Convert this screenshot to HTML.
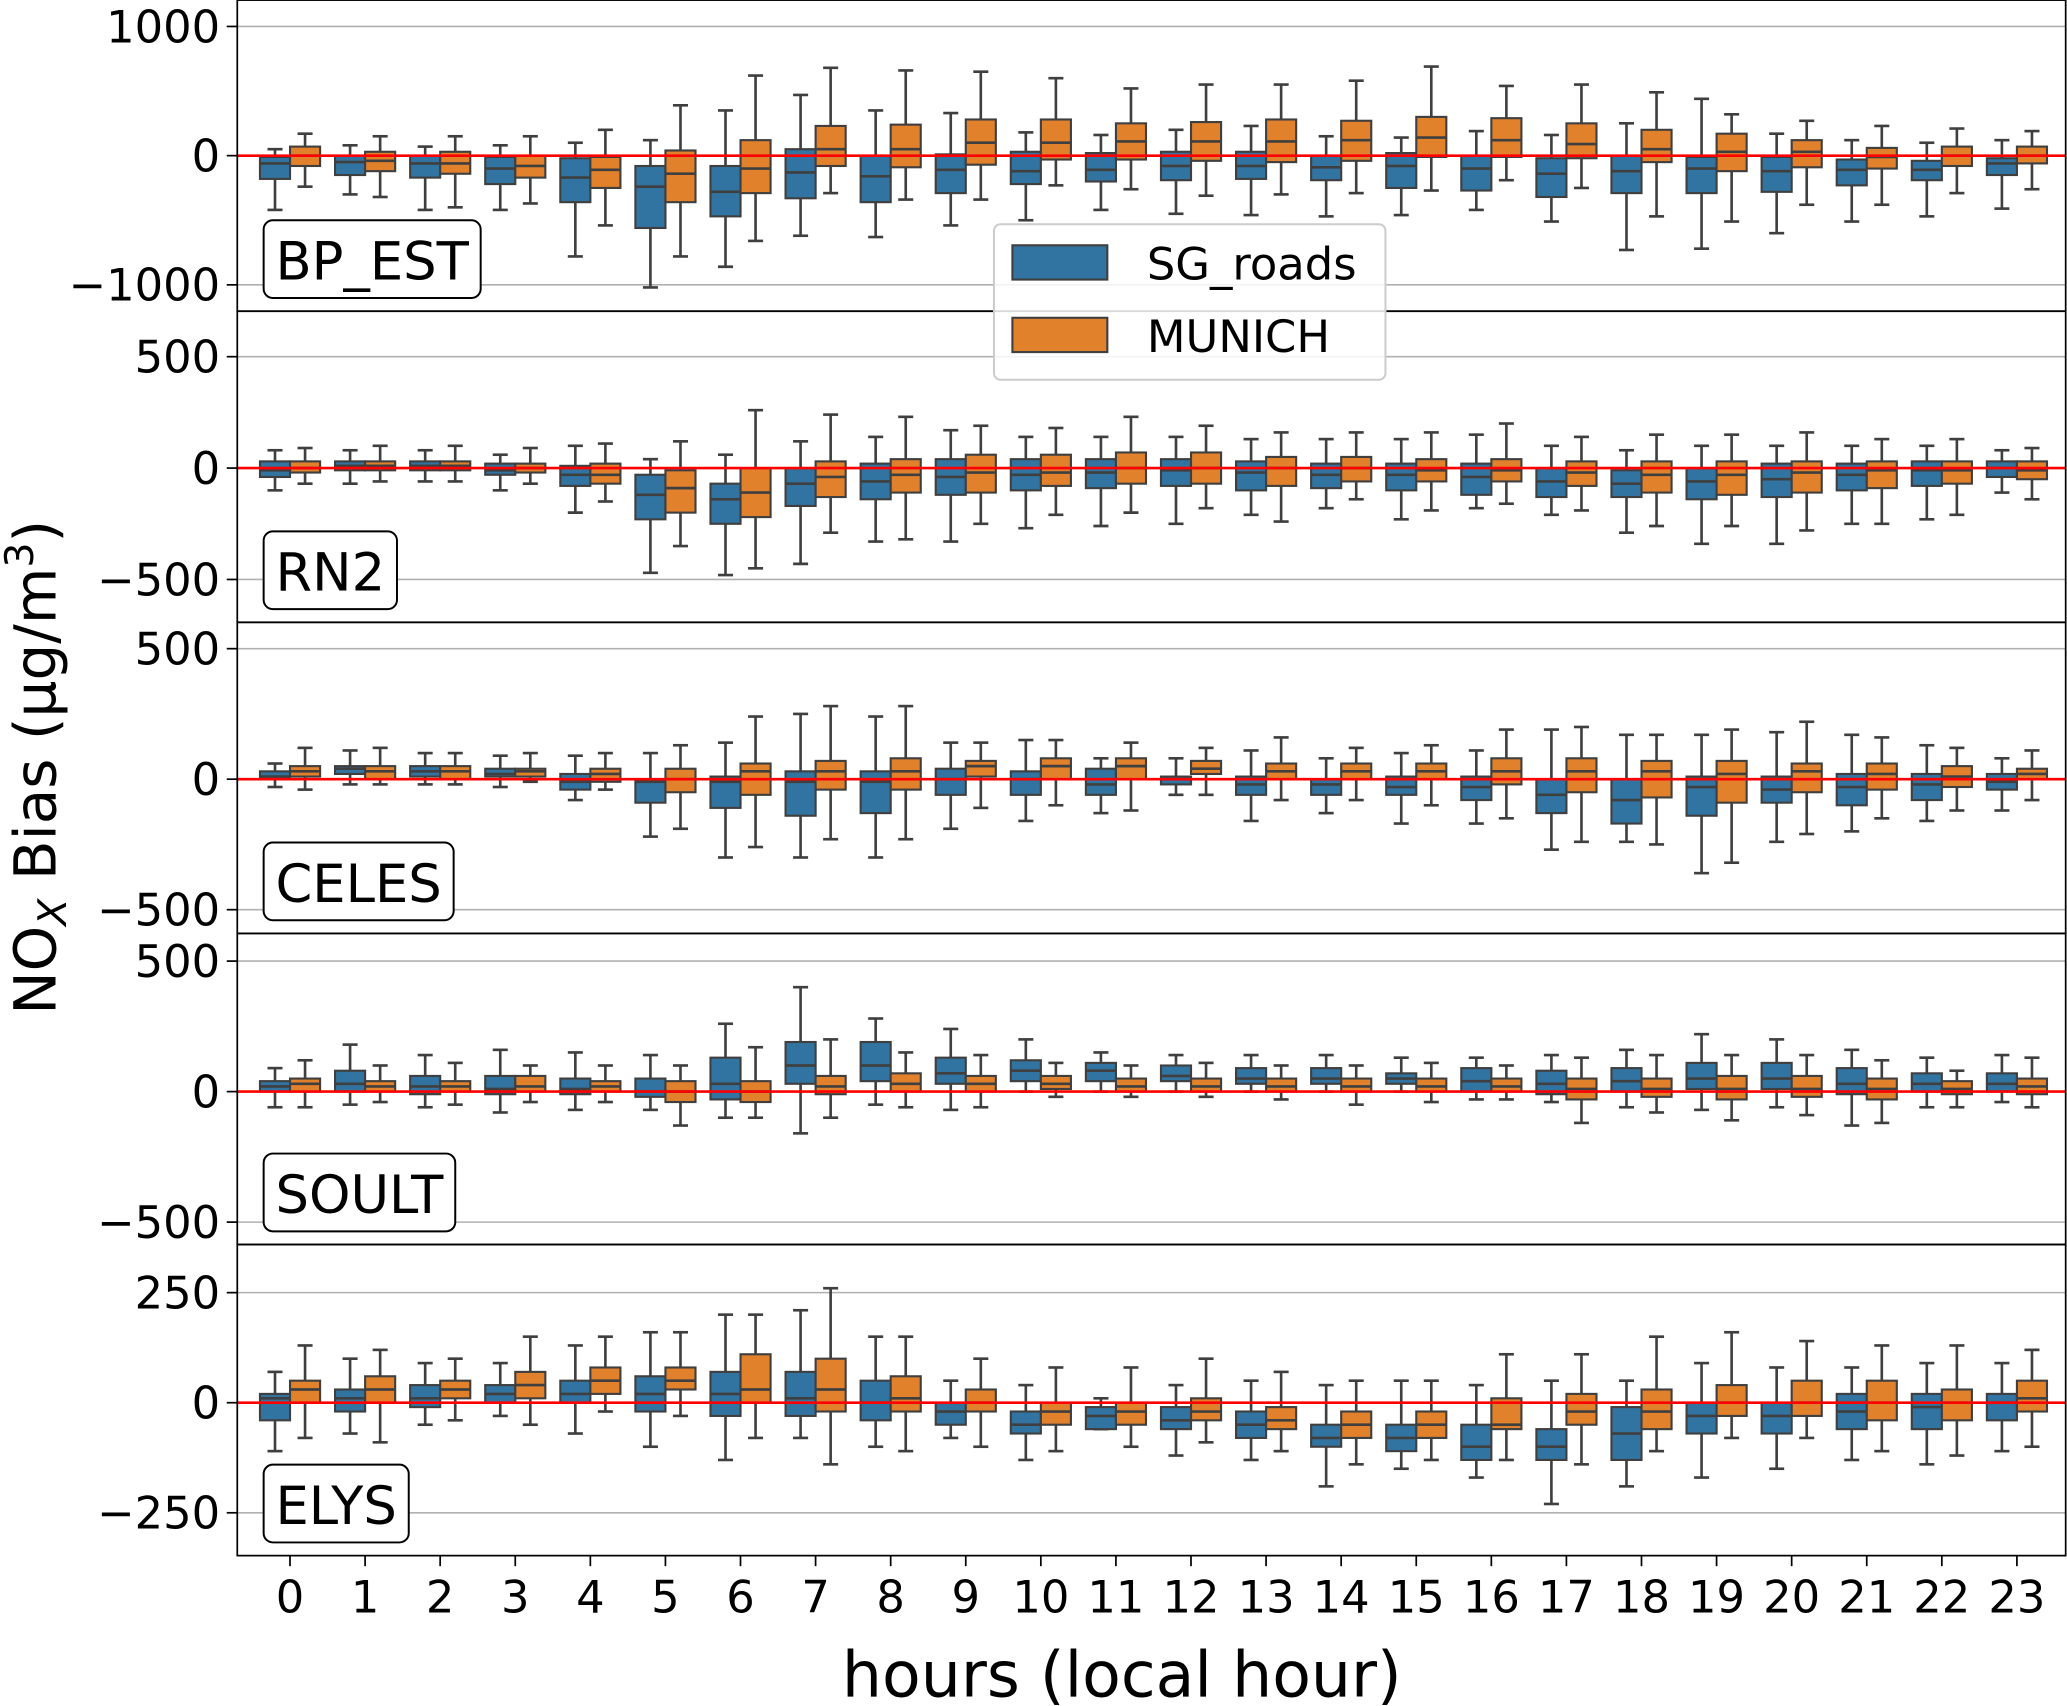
<!DOCTYPE html>
<html><head><meta charset="utf-8"><style>
html,body{margin:0;padding:0;background:#fff;}
svg{display:block;font-family:"DejaVu Sans","Liberation Sans",sans-serif;}
</style></head><body>
<svg id="chart" width="2067" height="1706" viewBox="0 0 1568 1294" xmlns="http://www.w3.org/2000/svg"></svg>
<script>
const hours = [0,1,2,3,4,5,6,7,8,9,10,11,12,13,14,15,16,17,18,19,20,21,22,23];
const stations = ["BP_EST","RN2","CELES","SOULT","ELYS"];
const yTicks = [[1000,0,-1000],[500,0,-500],[500,0,-500],[500,0,-500],[250,0,-250]];
const yTickLabels = [["1000","0","\u22121000"],["500","0","\u2212500"],["500","0","\u2212500"],["500","0","\u2212500"],["250","0","\u2212250"]];
// [whislo, q1, median, q3, whishi]
const bpBlue = [[-420,-180,-60,-10,50],[-300,-150,-50,0,80],[-420,-170,-60,0,70],[-420,-220,-100,-10,80],[-780,-360,-170,-20,100],[-1020,-560,-240,-80,120],[-860,-470,-280,-80,350],[-620,-330,-130,50,470],[-630,-360,-160,0,350],[-540,-290,-110,10,330],[-500,-220,-120,30,180],[-420,-200,-110,20,160],[-450,-190,-80,30,200],[-460,-180,-80,30,230],[-470,-190,-90,0,150],[-460,-250,-80,20,140],[-420,-270,-100,0,190],[-510,-320,-140,-20,160],[-730,-290,-120,0,250],[-720,-290,-100,-10,440],[-600,-280,-120,-10,170],[-510,-230,-110,-30,120],[-470,-190,-110,-40,100],[-410,-150,-60,-20,120]];
const bpOrange = [[-240,-80,0,70,170],[-320,-120,-40,30,150],[-400,-140,-60,30,150],[-370,-170,-80,0,150],[-540,-250,-110,-10,200],[-780,-360,-140,40,390],[-660,-290,-100,120,620],[-290,-80,50,230,680],[-340,-90,50,240,660],[-340,-70,100,280,650],[-230,-30,100,280,600],[-260,-30,110,250,520],[-310,-40,110,260,550],[-300,-50,110,280,550],[-290,-40,120,270,580],[-270,-10,140,300,690],[-190,-10,120,290,540],[-250,-20,90,250,550],[-470,-50,50,200,490],[-510,-120,30,170,320],[-380,-90,30,120,270],[-380,-100,-10,60,230],[-290,-80,0,70,210],[-260,-60,0,70,190]];
const rnBlue = [[-100,-40,-10,30,80],[-70,-10,10,30,80],[-60,-10,10,30,80],[-100,-30,-10,20,60],[-200,-80,-30,10,100],[-470,-230,-120,-30,40],[-480,-250,-140,-70,60],[-430,-170,-70,0,120],[-330,-140,-60,20,140],[-330,-120,-40,40,170],[-270,-100,-30,40,140],[-260,-90,-20,40,140],[-250,-80,-10,40,140],[-210,-100,-20,30,130],[-180,-90,-30,20,130],[-230,-100,-30,20,130],[-180,-120,-40,20,150],[-210,-130,-60,0,100],[-290,-130,-70,-10,80],[-340,-140,-60,0,100],[-340,-130,-50,20,100],[-250,-100,-30,20,100],[-230,-80,-10,30,100],[-110,-40,0,30,80]];
const rnOrange = [[-70,-20,0,30,90],[-60,-10,10,30,100],[-60,-10,10,30,100],[-70,-20,0,20,90],[-150,-70,-30,20,110],[-350,-200,-90,-10,120],[-450,-220,-110,0,260],[-290,-130,-40,30,240],[-320,-110,-30,40,230],[-250,-110,-20,60,190],[-210,-80,-20,60,180],[-200,-70,0,70,230],[-180,-70,0,70,190],[-240,-80,0,50,160],[-140,-60,0,50,160],[-190,-60,-10,40,160],[-160,-60,-10,40,200],[-190,-80,-20,30,140],[-260,-110,-30,30,150],[-260,-120,-30,30,150],[-280,-110,-20,30,160],[-250,-90,-10,30,130],[-210,-70,-10,30,130],[-140,-50,-10,30,90]];
const celBlue = [[-30,0,10,30,60],[-20,20,40,50,110],[-20,10,30,50,100],[-30,10,20,40,90],[-80,-40,-10,20,90],[-220,-90,-10,0,100],[-300,-110,-10,10,140],[-300,-140,-10,30,250],[-300,-130,-10,30,240],[-190,-60,0,40,140],[-160,-60,0,30,150],[-130,-60,-20,40,80],[-60,-20,0,10,80],[-160,-60,-20,10,110],[-130,-60,-20,0,80],[-170,-60,-30,10,100],[-170,-80,-30,10,110],[-270,-130,-60,0,190],[-240,-170,-80,0,170],[-360,-140,-30,10,170],[-240,-90,-40,10,180],[-200,-100,-30,20,170],[-160,-80,-20,20,130],[-120,-40,-10,20,80]];
const celOrange = [[-40,10,30,50,120],[-20,0,30,50,120],[-20,0,30,50,100],[-10,10,30,40,100],[-40,-10,20,40,100],[-190,-50,0,40,130],[-260,-60,30,60,240],[-230,-40,30,70,280],[-230,-40,30,80,280],[-110,10,50,70,140],[-100,0,50,80,150],[-120,0,50,80,140],[-60,20,40,70,120],[-80,0,30,60,160],[-80,0,30,60,120],[-100,0,30,60,130],[-150,-20,30,80,190],[-240,-50,30,80,200],[-250,-70,30,70,170],[-320,-90,20,70,190],[-210,-50,30,60,220],[-150,-40,20,60,160],[-120,-30,10,50,120],[-80,0,20,40,110]];
const souBlue = [[-60,0,20,40,90],[-50,0,30,80,180],[-60,-10,20,60,140],[-80,-10,10,60,160],[-70,-10,10,50,150],[-70,-20,0,50,140],[-100,-30,30,130,260],[-160,30,100,190,400],[-50,40,100,190,280],[-70,30,70,130,240],[0,40,80,120,200],[0,40,80,110,150],[0,40,60,100,140],[0,30,50,90,140],[0,30,50,90,140],[0,30,50,70,130],[-30,0,40,90,130],[-40,-10,30,80,140],[-60,0,40,90,160],[-70,10,50,110,220],[-60,10,50,110,200],[-130,-10,30,90,160],[-60,0,30,70,130],[-40,0,30,70,140]];
const souOrange = [[-60,0,30,50,120],[-40,0,20,40,100],[-50,0,20,40,110],[-40,0,20,60,100],[-40,0,20,40,100],[-130,-40,0,40,100],[-100,-40,0,40,170],[-100,-10,20,60,200],[-60,0,30,70,150],[-60,0,30,60,140],[-20,10,30,60,110],[-20,0,20,50,100],[-20,0,20,50,110],[-30,0,20,50,100],[-50,0,20,50,100],[-40,0,20,50,110],[-30,0,20,50,100],[-120,-30,10,50,130],[-80,-20,10,50,140],[-110,-30,10,60,140],[-90,-20,10,60,140],[-120,-30,10,50,120],[-60,-10,10,40,80],[-60,-10,20,50,130]];
const elyBlue = [[-110,-40,10,20,70],[-70,-20,10,30,100],[-50,-10,10,40,90],[-30,0,20,40,90],[-70,0,20,50,130],[-100,-20,20,60,160],[-130,-30,20,70,200],[-80,-30,10,70,210],[-100,-40,0,50,150],[-80,-50,-20,0,50],[-130,-70,-50,-20,40],[-60,-60,-30,-10,10],[-120,-60,-40,-10,40],[-130,-80,-50,-20,50],[-190,-100,-80,-50,40],[-150,-110,-80,-50,50],[-170,-130,-100,-50,40],[-230,-130,-100,-60,50],[-190,-130,-70,-10,50],[-170,-70,-30,0,90],[-150,-70,-30,0,80],[-130,-60,-20,20,80],[-140,-60,-10,20,90],[-110,-40,0,20,90]];
const elyOrange = [[-80,0,30,50,130],[-90,0,30,60,120],[-40,10,30,50,100],[-50,10,40,70,150],[-20,20,50,80,150],[-30,30,50,80,160],[-80,0,30,110,200],[-140,-20,30,100,260],[-110,-20,10,60,150],[-100,-20,0,30,100],[-110,-50,-20,0,80],[-100,-50,-20,0,80],[-90,-40,-20,10,100],[-110,-60,-40,-10,70],[-140,-80,-50,-20,50],[-130,-80,-50,-20,50],[-130,-60,-50,10,110],[-140,-50,-20,20,110],[-110,-60,-20,30,150],[-80,-30,0,40,160],[-80,-30,0,50,140],[-110,-40,0,50,130],[-120,-40,0,30,130],[-100,-20,10,50,120]];
const seriesNames = ["SG_roads","MUNICH"];

const blueSeries = [bpBlue, rnBlue, celBlue, souBlue, elyBlue];
const orangeSeries = [bpOrange, rnOrange, celOrange, souOrange, elyOrange];

const NS = "http://www.w3.org/2000/svg";
const svg = document.getElementById("chart");
function mk(tag, attrs, parent) {
  const e = document.createElementNS(NS, tag);
  for (const k in attrs) e.setAttribute(k, attrs[k]);
  (parent || svg).appendChild(e);
  return e;
}
const L = 180, R = 1567;
const panelTop = [0, 236, 472, 708, 944];
const panelBot = [236, 472, 708, 944, 1180];
const zeroY = [118, 355, 591, 828, 1064];
const pxPerUnit = [98/1000, 84.5/500, 99/500, 99/500, 83.5/250];
const x0 = 220, dx = 1310/23, bw = 22.8;
function xScale(h) { return x0 + dx * h; }
const colors = ["#3274a1", "#e1812c"];
const edge = "#3f3f3f";

for (let p = 0; p < 5; p++) {
  const g = mk("g", {});
  
  
  const yS = v => zeroY[p] - v * pxPerUnit[p];
  const clip = mk("clipPath", {id: "clip" + p}, g);
  mk("rect", {x: L, y: panelTop[p], width: R - L, height: panelBot[p] - panelTop[p]}, clip);
  yTicks[p].forEach((t, i) => {
    const y = yS(t);
    const gl = mk("line", {x1: L, x2: R, y1: y, y2: y, stroke: "#b0b0b0", "stroke-width": 1.2}, g);
    
    
    mk("line", {x1: L - 8, x2: L, y1: y, y2: y, stroke: "#000", "stroke-width": 1.3}, g);
    const tx = mk("text", {x: L - 13, y: y + 12, "text-anchor": "end", "font-size": 34, fill: "#000"}, g);
    tx.textContent = yTickLabels[p][i];
    
    
  });
  const marks = mk("g", {"clip-path": "url(#clip" + p + ")"}, g);
  [blueSeries[p], orangeSeries[p]].forEach((ser, s) => {
    ser.forEach((d, h) => {
      const xl = xScale(h) - 0.5 * dx * 0.8 + s * bw;
      const xc = xl + bw / 2;
      const bg = mk("g", {}, marks);
      
      
      mk("line", {x1: xc, x2: xc, y1: yS(d[0]), y2: yS(d[1]), stroke: edge, "stroke-width": 2}, bg);
      mk("line", {x1: xc, x2: xc, y1: yS(d[3]), y2: yS(d[4]), stroke: edge, "stroke-width": 2}, bg);
      mk("line", {x1: xc - bw/4, x2: xc + bw/4, y1: yS(d[0]), y2: yS(d[0]), stroke: edge, "stroke-width": 2}, bg);
      mk("line", {x1: xc - bw/4, x2: xc + bw/4, y1: yS(d[4]), y2: yS(d[4]), stroke: edge, "stroke-width": 2}, bg);
      mk("rect", {x: xl, y: yS(d[3]), width: bw, height: Math.max(0.5, yS(d[1]) - yS(d[3])), fill: colors[s], stroke: edge, "stroke-width": 1.6}, bg);
      mk("line", {x1: xl, x2: xl + bw, y1: yS(d[2]), y2: yS(d[2]), stroke: edge, "stroke-width": 2}, bg);
    });
  });
  const zl = mk("line", {x1: L, x2: R, y1: zeroY[p], y2: zeroY[p], stroke: "#ff0000", "stroke-width": 2}, g);
  
  
  const fr = mk("rect", {x: L, y: panelTop[p], width: R - L, height: panelBot[p] - panelTop[p], fill: "none", stroke: "#000", "stroke-width": 1.3}, g);
  
  
  const lb = mk("g", {}, g);
  
  
  const lt = mk("text", {x: 209, y: panelBot[p] - 24, "font-size": 40, fill: "#000"}, lb);
  lt.textContent = stations[p];
  const lw = lt.getComputedTextLength ? lt.getComputedTextLength() + 18 : stations[p].length * 27 + 18;
  const rc = mk("rect", {x: 200, y: panelBot[p] - 69, width: lw, height: 59, rx: 7, fill: "#fff", stroke: "#000", "stroke-width": 1.5});
  lb.insertBefore(rc, lt);
}
hours.forEach(h => {
  const x = xScale(h);
  mk("line", {x1: x, x2: x, y1: 1180, y2: 1188, stroke: "#000", "stroke-width": 1.3});
  const t = mk("text", {x: x, y: 1223, "text-anchor": "middle", "font-size": 34, fill: "#000"});
  t.textContent = String(h);
  
  
});
const lg = mk("g", {});


mk("rect", {x: 754, y: 170, width: 297, height: 118, rx: 5, fill: "#fff", "fill-opacity": 0.85, stroke: "#ccc", "stroke-width": 1.5}, lg);
seriesNames.forEach((n, i) => {
  const e = mk("g", {}, lg);
  
  
  mk("rect", {x: 768, y: 186 + i * 55, width: 72, height: 26, fill: colors[i], stroke: edge, "stroke-width": 1.6}, e);
  const t = mk("text", {x: 870, y: 212 + i * 55, "font-size": 34, fill: "#000"}, e);
  t.textContent = n;
});
</script>
<svg style="position:absolute;left:0;top:0" width="2067" height="1706" viewBox="0 0 1568 1294" xmlns="http://www.w3.org/2000/svg">
<text x="851" y="1287" text-anchor="middle" font-size="48" font-family="DejaVu Sans, Liberation Sans, sans-serif">hours (local hour)</text>
<text transform="translate(42,582) rotate(-90)" text-anchor="middle" font-size="44" font-family="DejaVu Sans, Liberation Sans, sans-serif">NO<tspan font-size="30" dy="8" font-style="italic">X</tspan><tspan dy="-8"> Bias (µg/m</tspan><tspan font-size="30" dy="-17">3</tspan><tspan dy="17">)</tspan></text>
</svg>
</body></html>
